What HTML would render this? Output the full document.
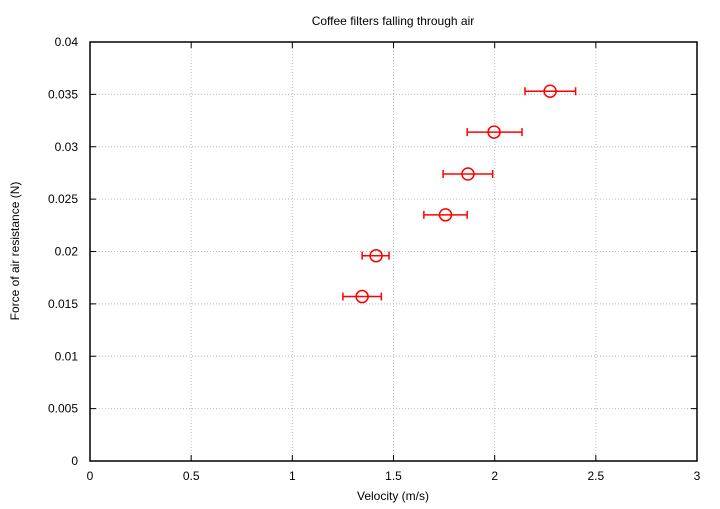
<!DOCTYPE html>
<html><head><meta charset="utf-8"><style>
body{margin:0;background:#fff;}
svg text{font-family:"Liberation Sans",sans-serif;font-size:12px;fill:#000;}
</style></head><body>
<svg width="720" height="504" xmlns="http://www.w3.org/2000/svg">
<rect width="720" height="504" fill="#fff"/>
<g id="grid"></g>
<g id="axes"></g>
<g id="marks"></g>
<text x="393" y="25" text-anchor="middle">Coffee filters falling through air</text>
<text x="393" y="500" text-anchor="middle">Velocity (m/s)</text>
<text transform="translate(19,251) rotate(-90)" text-anchor="middle">Force of air resistance (N)</text>
</svg>
<script>
const velocity=[1.345,1.414,1.757,1.868,1.997,2.274];
const velErrLo=[1.25,1.345,1.65,1.745,1.864,2.15];
const velErrHi=[1.44,1.478,1.864,1.99,2.135,2.40];
const force=[0.0157,0.0196,0.0235,0.0274,0.0314,0.0353];
const xTicks=[0,0.5,1,1.5,2,2.5,3];
const xTickLabels=["0","0.5","1","1.5","2","2.5","3"];
const yTicks=[0,0.005,0.01,0.015,0.02,0.025,0.03,0.035,0.04];
const yTickLabels=["0","0.005","0.01","0.015","0.02","0.025","0.03","0.035","0.04"];
const L=90,R=697,T=42,B=461;
const sx=v=>L+(v-0)/(3-0)*(R-L);
const sy=v=>B-(v-0)/(0.04-0)*(B-T);
const NS="http://www.w3.org/2000/svg";
function mk(tag,attrs,parent){const e=document.createElementNS(NS,tag);for(const k in attrs)e.setAttribute(k,attrs[k]);parent.appendChild(e);return e;}
const grid=document.getElementById('grid'),axes=document.getElementById('axes'),marks=document.getElementById('marks');
xTicks.forEach((t,i)=>{const x=sx(t);
 if(i>0&&i<xTicks.length-1){const g=mk('line',{x1:x,x2:x,y1:T,y2:B,stroke:'#bbb','stroke-dasharray':'1,2'},grid);}
 mk('line',{x1:x,x2:x,y1:B,y2:B-6,stroke:'#000'},axes);mk('line',{x1:x,x2:x,y1:T,y2:T+6,stroke:'#000'},axes);
 const tx=mk('text',{x:x,y:B+19,'text-anchor':'middle'},axes);tx.textContent=xTickLabels[i];
 });
yTicks.forEach((t,i)=>{const y=sy(t);
 if(i>0&&i<yTicks.length-1){const g=mk('line',{x1:L,x2:R,y1:y,y2:y,stroke:'#bbb','stroke-dasharray':'1,2'},grid);}
 mk('line',{x1:L,x2:L+6,y1:y,y2:y,stroke:'#000'},axes);mk('line',{x1:R,x2:R-6,y1:y,y2:y,stroke:'#000'},axes);
 const tx=mk('text',{x:L-12,y:y+4,'text-anchor':'end'},axes);tx.textContent=yTickLabels[i];
 });
const fr=mk('rect',{x:L,y:T,width:R-L,height:B-T,fill:'none',stroke:'#000','stroke-width':1.5},axes);

velocity.forEach((v,i)=>{const y=sy(force[i]),x0=sx(velErrLo[i]),x1=sx(velErrHi[i]);
 const g=mk('g',{stroke:'#f00','stroke-width':1.5,fill:'none'},marks);
 
 mk('line',{x1:x0,x2:x1,y1:y,y2:y},g);
 mk('line',{x1:x0,x2:x0,y1:y-4,y2:y+4},g);mk('line',{x1:x1,x2:x1,y1:y-4,y2:y+4},g);
 mk('circle',{cx:sx(v),cy:y,r:6},g);});
</script>
</body></html>
